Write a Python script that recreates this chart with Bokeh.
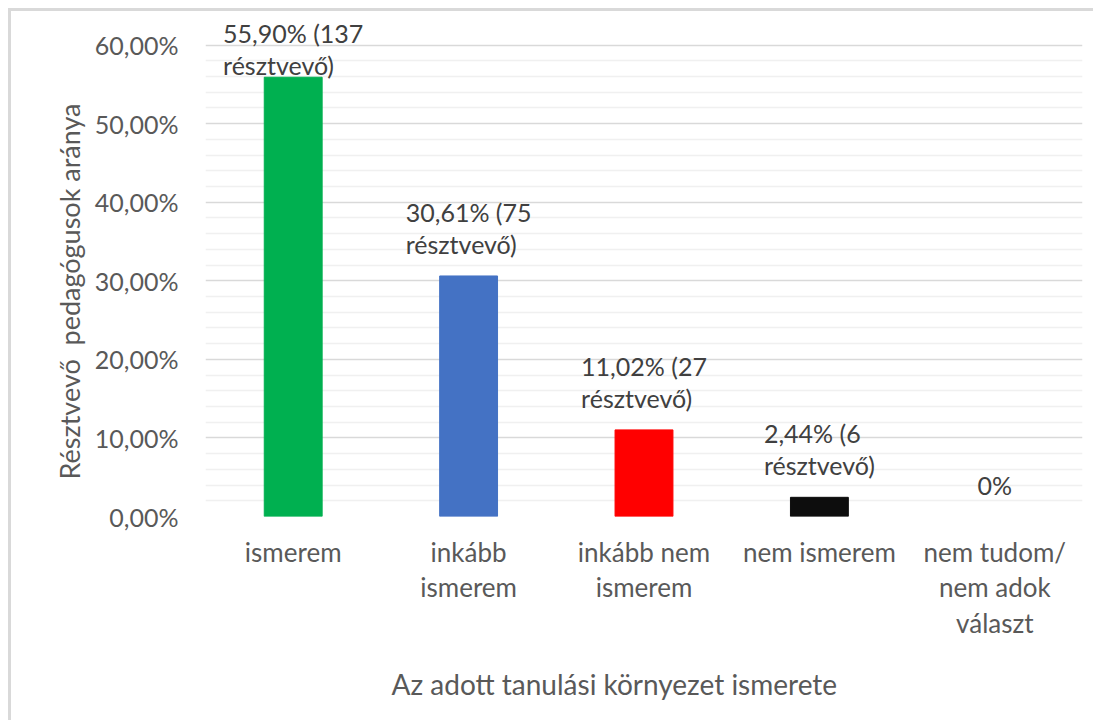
from bokeh.plotting import figure
from bokeh.models import (ColumnDataSource, LabelSet, Title, FixedTicker,
                          CustomJSTickFormatter, Range1d)
from bokeh.core.properties import value
from bokeh.embed import file_html
from bokeh.resources import INLINE

categories = ["ismerem", "inkább\nismerem", "inkább nem\nismerem", "nem ismerem", "nem tudom/\nnem adok\nválaszt"]
values = [0.5590, 0.3061, 0.1102, 0.0244, 0.0]
labels = ["55,90% (137\nrésztvevő)", "30,61% (75\nrésztvevő)", "11,02% (27\nrésztvevő)", "2,44% (6\nrésztvevő)", "0%"]
colors = ["#00b050", "#4472c4", "#ff0000", "#0d0d0d", "#ffffff"]
label_offsets = [-3, 17, 17, 17, 17]
y_ticks = [0.0, 0.1, 0.2, 0.3, 0.4, 0.5, 0.6]
y_minor = [0.02, 0.04, 0.06, 0.08, 0.12, 0.14, 0.16, 0.18, 0.22, 0.24, 0.26, 0.28,
           0.32, 0.34, 0.36, 0.38, 0.42, 0.44, 0.46, 0.48, 0.52, 0.54, 0.56, 0.58]
x_title = "Az adott tanulási környezet ismerete"
y_title = "Résztvevő\u00a0 pedagógusok aránya"

FONT = "Lato"

src = ColumnDataSource(dict(cat=categories, val=values, lab=labels, col=colors, off=label_offsets))

W, H = 1085, 712
p = figure(x_range=categories, y_range=Range1d(0, 0.635), width=W, height=H,
           output_backend="svg", toolbar_location=None,
           min_border_left=194, min_border_right=14, min_border_top=6, min_border_bottom=207)
p.styles = {"border-top": "3px solid #d9d9d9", "border-left": "3px solid #d9d9d9",
            "margin-left": "8px", "margin-top": "8px"}
p.outline_line_color = None

p.vbar(x="cat", top="val", width=0.33, color="col", source=src)

ls = LabelSet(x="cat", y="val", text="lab", y_offset="off", source=src,
              text_align="center", text_baseline="bottom", text_font=value(FONT),
              text_font_size=value("25px"), text_color="#404040", text_line_height=1.07)
p.add_layout(ls)

ticker = FixedTicker(ticks=y_ticks, minor_ticks=y_minor)
p.yaxis.ticker = ticker
p.yaxis.formatter = CustomJSTickFormatter(code="return (tick*100).toFixed(2).replace('.', ',') + '%';")
p.ygrid.ticker = ticker
p.ygrid.grid_line_color = "#d9d9d9"
p.ygrid.grid_line_width = 1.5
p.ygrid.minor_grid_line_color = "#f0f0f0"
p.ygrid.minor_grid_line_width = 1.5
p.xgrid.grid_line_color = None

for ax in (p.xaxis, p.yaxis):
    ax.axis_line_color = None
    ax.major_tick_line_color = None
    ax.minor_tick_line_color = None
    ax.major_label_text_font = FONT
    ax.major_label_text_color = "#595959"

p.yaxis.major_label_text_font_size = "25px"
p.yaxis.major_label_standoff = 21
p.xaxis.major_label_text_font_size = "26px"
p.xaxis.major_label_standoff = 13
p.xaxis.major_label_text_line_height = 1.12

p.add_layout(Title(text=x_title, align="left", offset=186, standoff=44,
                   text_font=FONT, text_font_size="28px", text_font_style="normal",
                   text_color="#595959"), "below")
p.add_layout(Title(text=y_title, align="left", offset=37, standoff=12,
                   text_font=FONT, text_font_size="27px", text_font_style="normal",
                   text_color="#595959"), "left")

open("out.html", "w").write(file_html(p, INLINE))
